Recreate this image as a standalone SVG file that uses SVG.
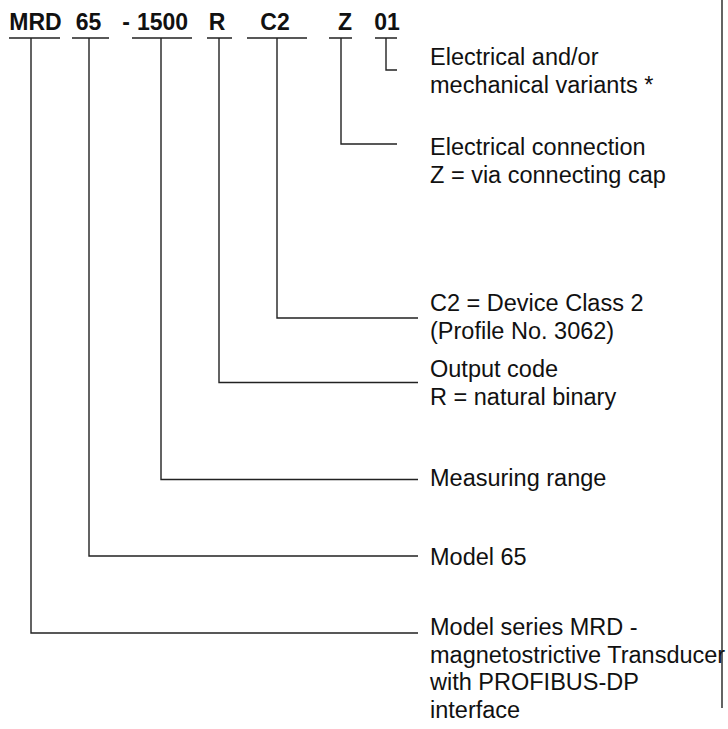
<svg xmlns="http://www.w3.org/2000/svg" width="728" height="729" viewBox="0 0 728 729">
<style>
.code{font-family:"Liberation Sans",Arial,sans-serif;font-size:23px;font-weight:bold;fill:#111;text-anchor:middle}
.lbl{font-family:"Liberation Sans",Arial,sans-serif;font-size:23.5px;fill:#111}
.ln{fill:none;stroke:#222;stroke-width:1.4}
</style>
<rect width="728" height="729" fill="#fff"/>
<g id="code">
<text class="code" x="35.5" y="30">MRD</text>
<text class="code" x="88.5" y="30">65</text>
<text class="code" x="126" y="30">-</text>
<text class="code" x="162.5" y="30">1500</text>
<text class="code" x="217" y="30">R</text>
<text class="code" x="275" y="30">C2</text>
<text class="code" x="345" y="30">Z</text>
<text class="code" x="387" y="30">01</text>
<path class="ln" d="M9 38H60M72 38H109M132 38H192M207 38H232M247 38H307M329 38H352M375 38H397"/>
</g>
<g id="connectors">
<path class="ln" d="M386 38V70H397"/>
<path class="ln" d="M341 38V144H397"/>
<path class="ln" d="M277 38V318H418"/>
<path class="ln" d="M219 38V382.5H418"/>
<path class="ln" d="M161 38V479.5H418"/>
<path class="ln" d="M89 38V556H418"/>
<path class="ln" d="M31 38V633H418"/>
<path class="ln" d="M722 0V708"/>
</g>
<g id="variants"><text class="lbl" x="430" y="65">Electrical and/or</text><text class="lbl" x="430" y="93">mechanical variants *</text></g>
<g id="connection"><text class="lbl" x="430" y="155">Electrical connection</text><text class="lbl" x="430" y="183">Z = via connecting cap</text></g>
<g id="class"><text class="lbl" x="430" y="310.5">C2 = Device Class 2</text><text class="lbl" x="430" y="338.5">(Profile No. 3062)</text></g>
<g id="output"><text class="lbl" x="430" y="377">Output code</text><text class="lbl" x="430" y="405">R = natural binary</text></g>
<g id="range"><text class="lbl" x="430" y="486">Measuring range</text></g>
<g id="model"><text class="lbl" x="430" y="565">Model 65</text></g>
<g id="series"><text class="lbl" x="430" y="635">Model series MRD -</text><text class="lbl" x="430" y="662.5">magnetostrictive Transducer</text><text class="lbl" x="430" y="690">with PROFIBUS-DP</text><text class="lbl" x="430" y="718">interface</text></g>
</svg>
